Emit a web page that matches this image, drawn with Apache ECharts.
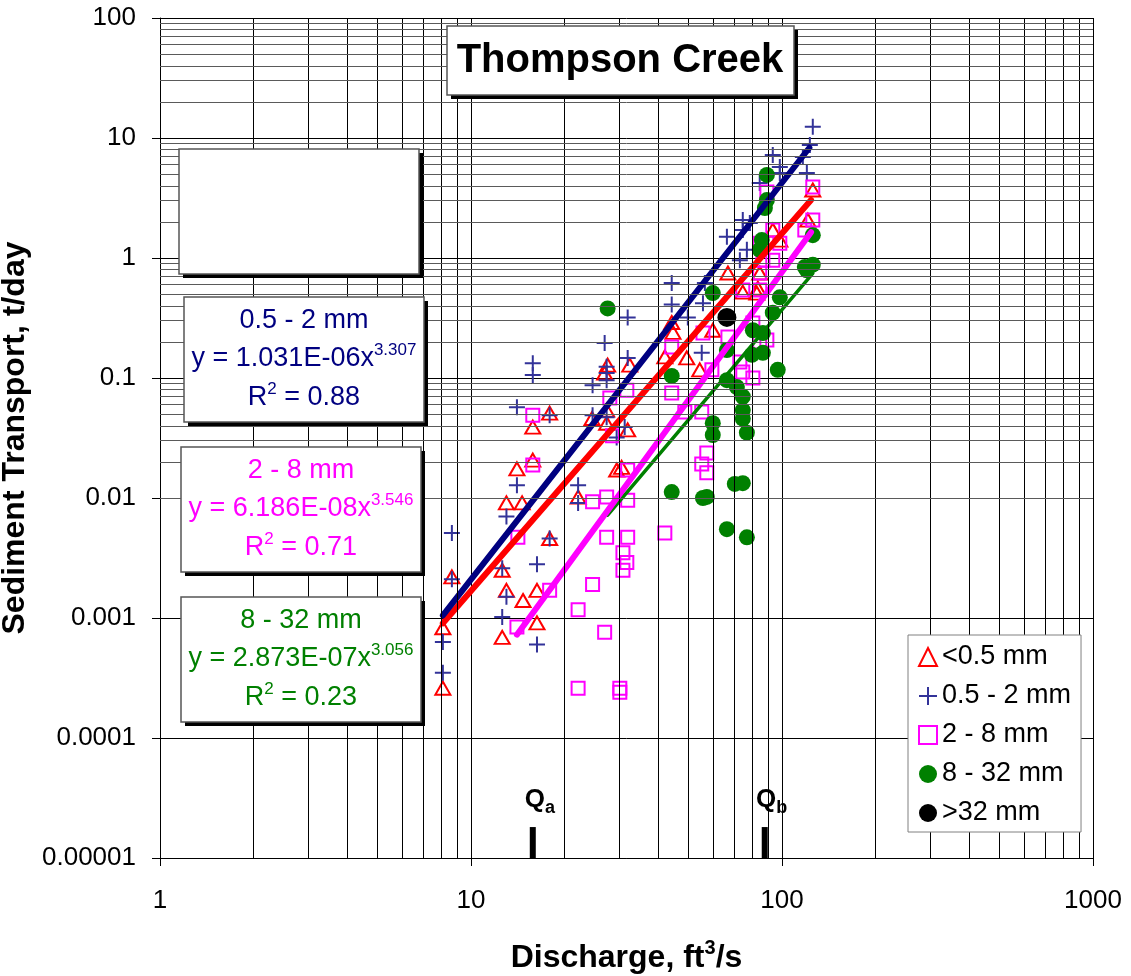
<!DOCTYPE html>
<html>
<head>
<meta charset="utf-8">
<title>Thompson Creek</title>
<script src="https://cdn.jsdelivr.net/npm/echarts@6.0.0/dist/echarts.min.js"></script>
<style>
html,body{margin:0;padding:0;background:#fff;}
#main{width:1131px;height:976px;}
</style>
</head>
<body>
<div id="main"></div>
<script>
var FONT = '"Liberation Sans", Arial, sans-serif';

// size classes
var sizeNames = ['<0.5 mm', '0.5 - 2 mm', '2 - 8 mm', '8 - 32 mm', '>32 mm'];

// [discharge ft3/s, sediment transport t/day]
var finePts = [
    [125.6,3.69],[121.1,2.07],[93.4,1.71],[98.4,1.41],[67.0,0.75],[84.8,0.75],[74.8,0.52],[83.6,0.56],[83.0,0.51],
    [44.2,0.29],[44.6,0.24],[42.0,0.15],[49.4,0.147],[54.4,0.117],[59.9,0.25],[32.4,0.128],[27.5,0.128],[27.3,0.054],
    [31.9,0.037],[30.5,0.018],[15.8,0.039],[17.9,0.051],[26.9,0.110],[24.5,0.046],[27.3,0.042],[14.05,0.0175],
    [15.8,0.0207],[13.0,0.0091],[14.6,0.0091],[22.1,0.0102],[17.9,0.0046],[8.68,0.0022],[12.6,0.0025],[13.0,0.0017],
    [14.7,0.0014],[16.3,0.0017],[16.3,0.00091],[12.6,0.00069],[8.12,0.00083],[8.12,0.00026],[29.4,0.0171]
];
var sandPts = [
    [125.6,12.4],[122.9,8.74],[93.4,7.22],[98.4,5.73],[98.4,5.11],[116.7,6.95],[120.2,5.11],[84.8,4.22],[74.8,2.07],
    [78.8,1.96],[74.8,1.71],[66.5,1.50],[77.1,1.17],[73.2,0.96],[44.2,0.62],[56.5,0.62],[31.9,0.32],[26.9,0.196],
    [31.9,0.147],[44.2,0.41],[49.8,0.32],[55.2,0.162],[55.7,0.42],[31.2,0.039],[29.4,0.032],[27.3,0.110],[15.8,0.133],
    [15.8,0.106],[14.05,0.057],[17.9,0.049],[27.3,0.124],[24.6,0.087],[27.3,0.096],[24.6,0.049],[27.3,0.047],
    [14.05,0.0128],[22.1,0.0128],[22.1,0.0091],[13.0,0.0070],[8.68,0.0051],[17.9,0.0046],[16.3,0.0028],[12.6,0.0026],
    [8.68,0.0021],[13.0,0.0015],[12.6,0.00102],[8.12,0.00063],[16.3,0.00060],[8.12,0.00035]
];
var gravelPts = [
    [125.6,3.90],[125.6,2.07],[118.4,1.71],[89.4,3.55],[93.4,1.71],[98.4,1.33],[84.8,1.33],[93.4,0.96],[86.8,0.96],
    [84.8,0.75],[74.8,0.54],[84.8,0.54],[44.2,0.181],[55.7,0.237],[67.0,0.22],[80.6,0.287],[73.2,0.136],[74.8,0.112],
    [80.6,0.100],[59.5,0.117],[44.2,0.075],[48.7,0.052],[55.2,0.052],[57.3,0.0237],[55.2,0.0192],[57.3,0.0162],
    [27.95,0.068],[28.5,0.033],[31.7,0.079],[84.8,0.20],[89.4,0.207],[15.8,0.049],[15.8,0.0188],[24.6,0.0093],
    [27.3,0.0102],[14.15,0.0047],[27.3,0.0047],[17.9,0.0017],[24.6,0.0019],[22.1,0.00117],[14.05,0.00084],
    [26.9,0.00076],[22.1,0.00026],[30.1,0.00026],[30.1,0.00024],[31.9,0.0171],[31.9,0.0096],[31.9,0.0047],
    [42.0,0.0051],[30.8,0.0035],[31.7,0.0029],[30.8,0.0025]
];
var pebblePts = [
    [89.4,4.92],[89.4,3.04],[88.1,2.61],[86.1,1.41],[84.8,1.17],[59.9,0.51],[118.4,0.84],[125.6,1.55],[120.2,0.79],
    [125.6,0.88],[27.5,0.38],[44.2,0.104],[66.5,0.171],[80.6,0.25],[86.8,0.237],[86.8,0.162],[80.0,0.156],[96.9,0.117],
    [66.5,0.096],[71.6,0.084],[74.8,0.070],[74.8,0.054],[74.8,0.046],[59.9,0.042],[59.9,0.0335],[77.1,0.035],
    [93.4,0.35],[98.4,0.47],[44.2,0.0112],[55.7,0.0100],[57.3,0.0102],[70.5,0.0131],[74.8,0.0133],[66.5,0.0055],
    [77.1,0.0047]
];
var cobblePts = [[66.5,0.32]];

// power trend lines y = a*x^b (same order as sizeNames), drawn from xFrom to xTo
var fitA = [1.76e-6, 1.031e-6, 6.186e-8, 2.873e-7];
var fitB = [2.98, 3.307, 3.546, 3.056];
var fitFrom = [8.12, 8.12, 14.05, 27.5];
var fitTo = [124, 122.5, 124, 125.6];
// equation boxes text (first box is empty)
var fitCoefText = ['', '1.031E-06', '6.186E-08', '2.873E-07'];
var fitExpText = ['', '3.307', '3.546', '3.056'];
var fitR2Text = ['', '0.88', '0.71', '0.23'];

// Qa / Qb discharges
var qNames = ['a', 'b'];
var qValues = [15.8, 88.0];
var qMarkY = 1.345e-5;

var xTickLabels = ['1', '10', '100', '1000'];
var yTickLabels = ['0.00001', '0.0001', '0.001', '0.01', '0.1', '1', '10', '100'];

var colors = ['#FF0000', '#333399', '#FF00FF', '#008000', '#000000'];
var lineColors = ['#FF0000', '#000080', '#FF00FF', '#008000'];
var lineWidths = [6, 6, 6, 3.5];

// minor grid lines
var gridMinor = [];
[1, 10, 100].forEach(function (d) {
    for (var k = 2; k < 10; k++) gridMinor.push({xAxis: d * k, lineStyle: {color: '#000', width: 1, type: 'solid'}});
});
for (var e = -5; e < 2; e++) {
    for (var k = 2; k < 10; k++) {
        gridMinor.push({yAxis: +(Math.pow(10, e) * k).toPrecision(3), lineStyle: {color: '#5a5a5a', width: 1, type: 'solid'}});
    }
}

var series = [{
    name: 'grid', type: 'line', data: [[1, 1e-5]], symbol: 'none', silent: true, z: 1,
    markLine: {silent: true, symbol: ['none', 'none'], label: {show: false}, animation: false,
        lineStyle: {type: 'solid'}, emphasis: {disabled: true}, data: gridMinor}
}];

var ptSets = [finePts, sandPts, gravelPts, pebblePts, cobblePts];
var symbols = ['triangle', 'path://M0,5L10,5M5,0L5,10', 'rect', 'circle', 'circle'];
var symSizes = [[15, 13], 16, 13, 16, 19];
ptSets.forEach(function (pts, i) {
    var hollow = i < 3;
    series.push({
        name: sizeNames[i], type: 'scatter', data: pts, z: 3,
        symbol: symbols[i], symbolSize: symSizes[i],
        itemStyle: hollow
            ? {color: 'rgba(0,0,0,0)', borderColor: colors[i], borderWidth: 2, opacity: 1}
            : {color: colors[i], opacity: 1},
        emphasis: {disabled: true}
    });
});

[3, 0, 2, 1].forEach(function (i) {
    series.push({
        name: 'fit ' + sizeNames[i], type: 'line', symbol: 'none', silent: true, z: 4,
        data: [[fitFrom[i], fitA[i] * Math.pow(fitFrom[i], fitB[i])], [fitTo[i], fitA[i] * Math.pow(fitTo[i], fitB[i])]],
        lineStyle: {color: lineColors[i], width: lineWidths[i], cap: 'round'}
    });
});

series.push({
    name: 'Q', type: 'scatter', z: 5, silent: true,
    data: qValues.map(function (q) { return [q, qMarkY]; }),
    symbol: 'rect', symbolSize: [6, 31],
    itemStyle: {color: '#000', opacity: 1, borderRadius: 3},
    label: {
        show: true, position: 'top', distance: 10, offset: [7, 0],
        formatter: function (p) { return '{q|Q}{s|' + qNames[p.dataIndex] + '}'; },
        rich: {
            q: {fontFamily: FONT, fontSize: 26, fontWeight: 'bold', color: '#000', verticalAlign: 'bottom', lineHeight: 30, padding: [0, 0, 4, 0]},
            s: {fontFamily: FONT, fontSize: 18, fontWeight: 'bold', color: '#000', verticalAlign: 'bottom', lineHeight: 20}
        }
    }
});

function boxRects(x, y, w, h) {
    return [
        {type: 'rect', shape: {x: x + 4, y: y + 4, width: w, height: h}, style: {fill: '#000'}, z: 10},
        {type: 'rect', shape: {x: x, y: y, width: w, height: h}, style: {fill: '#fff', stroke: '#555', lineWidth: 1.5}, z: 11}
    ];
}
function txt(x, y, text, color, size, bold, rich) {
    return {
        type: 'text', z: 12, x: x, y: y,
        style: {text: text, fill: color, align: 'center', verticalAlign: 'middle',
            fontFamily: FONT, fontSize: size, fontWeight: bold ? 'bold' : 'normal', rich: rich}
    };
}
var supRich = {
    b: {fontFamily: FONT, fontSize: 27, lineHeight: 30, verticalAlign: 'bottom'},
    s: {fontFamily: FONT, fontSize: 17, lineHeight: 14, verticalAlign: 'top'},
    r: {fontFamily: FONT, fontSize: 17, lineHeight: 8, verticalAlign: 'top'}
};
function richFor(color) {
    var r = {};
    Object.keys(supRich).forEach(function (k) { r[k] = Object.assign({}, supRich[k], {color: color}); });
    return r;
}

var graphics = [];
graphics = graphics.concat(boxRects(447, 26, 347, 69));
graphics.push(txt(620, 61, 'Thompson Creek', '#000', 40, true));

var boxPos = [[179, 149], [184, 297], [181, 447], [181, 597]];
boxPos.forEach(function (b, i) {
    graphics = graphics.concat(boxRects(b[0], b[1], 240, 125));
    if (!fitCoefText[i]) return;
    var cx = b[0] + 120, c = lineColors[i];
    graphics.push(txt(cx, b[1] + 24, sizeNames[i], c, 27, false));
    graphics.push(txt(cx, b[1] + 60, '{b|y = ' + fitCoefText[i] + 'x}{s|' + fitExpText[i] + '}', c, 27, false, richFor(c)));
    graphics.push(txt(cx, b[1] + 99, '{b|R}{r|2}{b| = ' + fitR2Text[i] + '}', c, 27, false, richFor(c)));
});

var chart = echarts.init(document.getElementById('main'));
chart.setOption({
    animation: false,
    backgroundColor: '#fff',
    grid: {left: 160, right: 38, top: 18, bottom: 118, outerBoundsMode: 'none', containLabel: false},
    legend: {
        data: sizeNames, orient: 'vertical', left: 908, top: 635,
        padding: [7, 10, 4, 10], itemGap: 9, itemWidth: 18, itemHeight: 18,
        backgroundColor: '#fff', borderColor: '#808080', borderWidth: 1, borderRadius: 0,
        textStyle: {fontFamily: FONT, fontSize: 27, color: '#000', lineHeight: 30},
        selectedMode: false, z: 12
    },
    xAxis: {
        type: 'log', logBase: 10, min: 1, max: 1000,
        name: '{b|Discharge, ft}{s|3}{b|/s}', nameLocation: 'middle', nameGap: 80,
        nameTextStyle: {
            rich: {
                b: {fontFamily: FONT, fontSize: 32, fontWeight: 'bold', color: '#000', lineHeight: 36, verticalAlign: 'bottom'},
                s: {fontFamily: FONT, fontSize: 20, fontWeight: 'bold', color: '#000', lineHeight: 22, verticalAlign: 'top'}
            }
        },
        axisLine: {show: true, lineStyle: {color: '#000', width: 1}},
        axisTick: {show: true, length: 8, lineStyle: {color: '#000', width: 1}},
        axisLabel: {
            fontFamily: FONT, fontSize: 26, color: '#000', margin: 30,
            formatter: function (v) { return xTickLabels[Math.round(Math.log10(v))]; }
        },
        splitLine: {show: true, lineStyle: {color: '#000', width: 1}}
    },
    yAxis: {
        type: 'log', logBase: 10, min: 1e-5, max: 100,
        name: 'Sediment Transport, t/day', nameLocation: 'middle', nameRotate: 90, nameGap: 120,
        nameTextStyle: {fontFamily: FONT, fontSize: 32, fontWeight: 'bold', color: '#000'},
        axisLine: {show: true, lineStyle: {color: '#000', width: 1}},
        axisTick: {show: true, length: 8, lineStyle: {color: '#000', width: 1}},
        axisLabel: {
            fontFamily: FONT, fontSize: 26, color: '#000', margin: 24,
            formatter: function (v) { return yTickLabels[Math.round(Math.log10(v)) + 5]; }
        },
        splitLine: {show: true, lineStyle: {color: '#000', width: 1}}
    },
    graphic: graphics,
    series: series
});
</script>
</body>
</html>
